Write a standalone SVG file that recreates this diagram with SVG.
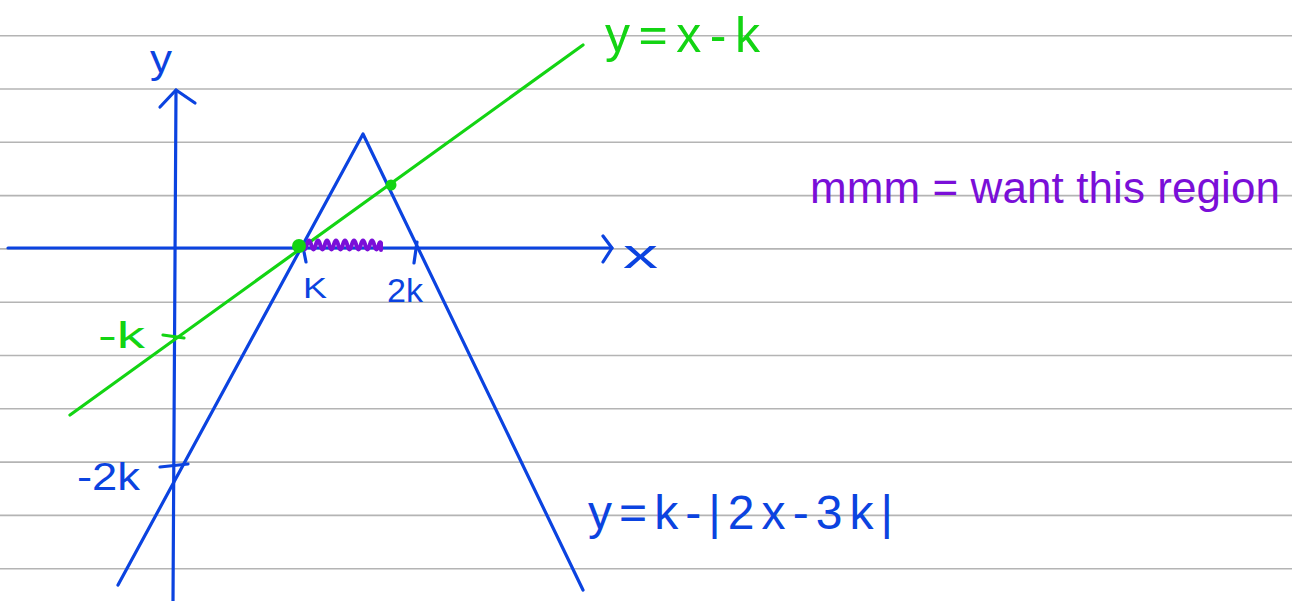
<svg xmlns="http://www.w3.org/2000/svg" width="1292" height="601" viewBox="0 0 1292 601">
<style>
.rule{stroke:#b4b4b4;stroke-width:1.6}
.blue{stroke:#0b43e0;stroke-width:3.2;fill:none;stroke-linecap:round;stroke-linejoin:round}
.green{stroke:#13d413;stroke-width:3.2;fill:none;stroke-linecap:round;stroke-linejoin:round}
.purple{stroke:#7a0fd8;stroke-width:4;fill:none;stroke-linecap:round;stroke-linejoin:round}
text{font-family:"Liberation Sans",Arial,sans-serif}
.tb{fill:#0b43e0}
.tg{fill:#13d413}
.tp{fill:#7a0fd8}
</style>
<rect width="1292" height="601" fill="#ffffff"/>
<g id="rules">
<line class="rule" x1="0" y1="35.7" x2="1292" y2="35.7"/>
<line class="rule" x1="0" y1="89" x2="1292" y2="89"/>
<line class="rule" x1="0" y1="142.3" x2="1292" y2="142.3"/>
<line class="rule" x1="0" y1="195.6" x2="1292" y2="195.6"/>
<line class="rule" x1="0" y1="248.9" x2="1292" y2="248.9"/>
<line class="rule" x1="0" y1="302.2" x2="1292" y2="302.2"/>
<line class="rule" x1="0" y1="355.5" x2="1292" y2="355.5"/>
<line class="rule" x1="0" y1="408.8" x2="1292" y2="408.8"/>
<line class="rule" x1="0" y1="462.1" x2="1292" y2="462.1"/>
<line class="rule" x1="0" y1="515.4" x2="1292" y2="515.4"/>
<line class="rule" x1="0" y1="568.7" x2="1292" y2="568.7"/>
</g>
<g id="connectors">
<g id="y-axis">
<path class="blue" d="M176,90 L173,601"/>
<path class="blue" d="M160,107 L176,90 L195,103"/>
</g>
<g id="x-axis">
<path class="blue" d="M8,248 L612,248"/>
<path class="blue" d="M603,236 L612,248 L603,262"/>
</g>
<g id="tent">
<path class="blue" d="M118,585 L363,134 L583,590"/>
</g>
<g id="line-green">
<path class="green" d="M70,415 L583,45"/>
</g>
<g id="ticks">
<path class="blue" d="M304,252 L306,262"/>
<path class="blue" d="M417,242 L414,263"/>
<path class="green" d="M163,335 L184,338"/>
<path class="blue" d="M160,467 L188,464"/>
</g>
<g id="region">
<path class="purple" d="M302,244 q2.5,11 5,0 q2,-7 4,0 q2.5,11 5,0 q2,-7 4,0 q2.5,11 5,0 q2,-7 4,0 q2.5,11 5,0 q2,-7 4,0 q2.5,11 5,0 q2,-7 4,0 q2.5,11 5,0 q2,-7 4,0 q2.5,11 5,0 q2,-7 4,0 q2.5,11 5,0 q2,-7 4,0 q2.5,11 5,0 q1,-3 2,-1 l0,7"/>
</g>
</g>
<g id="points">
<circle cx="299" cy="246" r="7" fill="#13d413"/>
<circle cx="391" cy="185" r="5.5" fill="#13d413"/>
</g>
<g id="labels">
<text class="tb" x="150" y="73" font-size="40" textLength="22" lengthAdjust="spacingAndGlyphs">y</text>
<text class="tb" x="623" y="268" font-size="40" textLength="35" lengthAdjust="spacingAndGlyphs">x</text>
<text class="tb" x="303" y="298" font-size="29" textLength="24" lengthAdjust="spacingAndGlyphs">K</text>
<text class="tb" x="387" y="302" font-size="34" textLength="36" lengthAdjust="spacingAndGlyphs">2k</text>
<text class="tg" x="98" y="348" font-size="36" textLength="47" lengthAdjust="spacingAndGlyphs">-k</text>
<text class="tb" x="77" y="490" font-size="38" textLength="63" lengthAdjust="spacingAndGlyphs">-2k</text>
<text class="tg" x="605" y="52" font-size="50" textLength="155" lengthAdjust="spacing">y=x-k</text>
<text class="tb" x="588" y="529" font-size="48" textLength="305" lengthAdjust="spacing">y=k-|2x-3k|</text>
<text class="tp" x="810" y="203" font-size="44" textLength="470" lengthAdjust="spacing">mmm = want this region</text>
</g>
</svg>
